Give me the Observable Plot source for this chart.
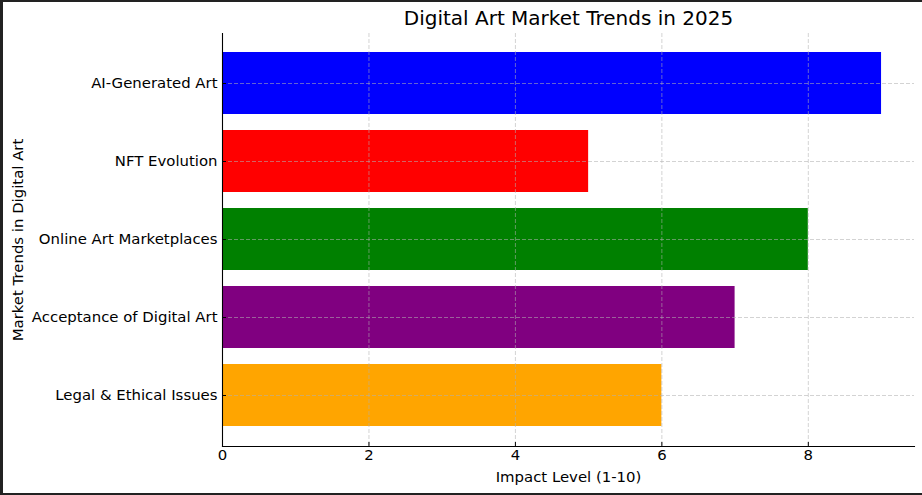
<!DOCTYPE html>
<html><head><meta charset="utf-8">
<script src="https://cdn.jsdelivr.net/npm/d3@7"></script>
<script src="https://cdn.jsdelivr.net/npm/@observablehq/plot@0.6"></script>
<style>
html,body{margin:0;padding:0;background:#fff;}
#chart{position:absolute;left:0;top:0;}
#frame{position:absolute;left:0;top:0;width:922px;height:495px;box-sizing:border-box;border-top:2px solid #222;border-left:3px solid #222;border-bottom:2px solid #222;pointer-events:none;}
</style></head><body>
<div id="chart"></div><div id="frame"></div>
<script>
const categories = ["AI-Generated Art","NFT Evolution","Online Art Marketplaces","Acceptance of Digital Art","Legal & Ethical Issues"];
const values = [9,5,8,7,6];
const colors = ["blue","red","green","purple","orange"];
const xTicks = [0,2,4,6,8];
const titleText = "Digital Art Market Trends in 2025";
const xLabel = "Impact Level (1-10)";
const yLabel = "Market Trends in Digital Art";

const data = categories.map((c,i)=>({category:c,value:values[i],color:colors[i]}));
const gridStyle = {stroke:"#b0b0b0",strokeOpacity:0.7,strokeWidth:0.8,strokeDasharray:"4,2"};
const fs = 14.9;

const plot = Plot.plot({
  width:922, height:495,
  marginLeft:222, marginRight:8, marginTop:33, marginBottom:49,
  style:{fontFamily:"DejaVu Sans, sans-serif", fontSize:fs+"px", color:"#000", background:"#fff", overflow:"visible"},
  x:{domain:[0,9.45]},
  y:{domain:categories, paddingInner:0.2, paddingOuter:0.24},
  marks:[
    Plot.barX(data,{x:"value", y:"category", fill:"color"}),
    Plot.gridX(xTicks, gridStyle),
    Plot.gridY(categories, gridStyle),
    Plot.axisX(xTicks,{tickSize:0, tickPadding:3, label:null, fontSize:fs}),
    Plot.axisY(categories,{tickSize:0, tickPadding:5, label:null, fontSize:fs}),
    Plot.ruleX(xTicks,{x:d=>d, insetTop:409, stroke:"#000", strokeWidth:1}),
    Plot.ruleY(categories,{y:d=>d, insetRight:688, stroke:"#000", strokeWidth:1}),
    Plot.frame({anchor:"bottom", stroke:"#000", strokeWidth:1.1}),
    Plot.frame({anchor:"left", stroke:"#000", strokeWidth:1.1}),
    Plot.text([titleText],{frameAnchor:"top", dy:-14.5, fontSize:20, lineAnchor:"middle", fill:"#000"}),
    Plot.text([xLabel],{frameAnchor:"bottom", dy:31, fontSize:fs, lineAnchor:"middle", fill:"#000"}),
    Plot.text([yLabel],{frameAnchor:"left", dx:-204, rotate:-90, textAnchor:"middle", fontSize:fs, lineAnchor:"middle", fill:"#000"})
  ]
});
document.getElementById("chart").appendChild(plot);
</script>
</body></html>
